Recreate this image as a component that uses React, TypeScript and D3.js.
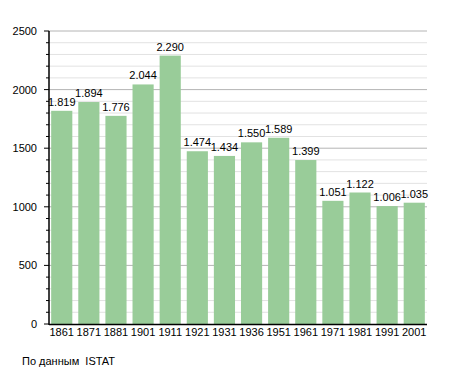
import React from "react";
import * as d3 from "d3";

const years = ["1861", "1871", "1881", "1901", "1911", "1921", "1931", "1936", "1951", "1961", "1971", "1981", "1991", "2001"];
const population = [1819, 1894, 1776, 2044, 2290, 1474, 1434, 1550, 1589, 1399, 1051, 1122, 1006, 1035];
const majorTicks = [0, 500, 1000, 1500, 2000, 2500];
const minorTicks = d3.range(0, 2501, 100);

const fmt = (v: number) => d3.format(",")(v).replace(",", ".");

const App = () => {
  const width = 455,
    height = 373,
    left = 49,
    right = 427,
    top = 31,
    bottom = 324;

  const x = d3.scaleBand().domain(years).range([left, right]).paddingInner(0.22).paddingOuter(0.08);
  const y = d3.scaleLinear().domain([0, 2500]).range([bottom, top]);

  const font = "'Liberation Sans', Arial, sans-serif";

  return (
    <svg width={width} height={height} style={{ position: "absolute", left: 0, top: 0 }} fontFamily={font}>
      <rect width={width} height={height} fill="#fff" />
      {minorTicks.filter(t => t % 500 !== 0).map(t => (
        <g key={"m" + t}>
          <line x1={left} x2={right} y1={y(t)} y2={y(t)} stroke="#e2e2e2" strokeWidth={1} />
          <line x1={left - 3} x2={left} y1={y(t)} y2={y(t)} stroke="#000" strokeWidth={1} />
        </g>
      ))}
      {majorTicks.filter(t => t > 0).map(t => (
        <line key={"g" + t} x1={left} x2={right} y1={y(t)} y2={y(t)} stroke="#b4b4b4" strokeWidth={1} />
      ))}
      {majorTicks.map(t => (
        <g key={"t" + t}>
          <line x1={left - 5} x2={left} y1={y(t)} y2={y(t)} stroke="#000" strokeWidth={1} />
          <text x={37} y={y(t) + 4} textAnchor="end" fontSize={11} fill="#000">
            {t}
          </text>
        </g>
      ))}
      {years.map((yr, i) => (
        <g key={yr}>
          <rect x={x(yr)} y={y(population[i])} width={x.bandwidth()} height={bottom - y(population[i])} fill="#99cc99" />
          <text x={(x(yr) as number) + x.bandwidth() / 2} y={y(population[i]) - 5} textAnchor="middle" fontSize={11} fill="#000">
            {fmt(population[i])}
          </text>
          <text x={(x(yr) as number) + x.bandwidth() / 2} y={bottom + 12} textAnchor="middle" fontSize={11} fill="#000">
            {yr}
          </text>
        </g>
      ))}
      <line x1={left} x2={left} y1={top} y2={bottom + 1} stroke="#000" strokeWidth={1.5} />
      <line x1={left} x2={right} y1={bottom + 0.5} y2={bottom + 0.5} stroke="#000" strokeWidth={1.5} />
      <text x={22} y={365} fontSize={11} fill="#000" style={{ whiteSpace: "pre" }}>
        {"По данным\u00a0\u00a0ISTAT"}
      </text>
    </svg>
  );
};

export default App;
